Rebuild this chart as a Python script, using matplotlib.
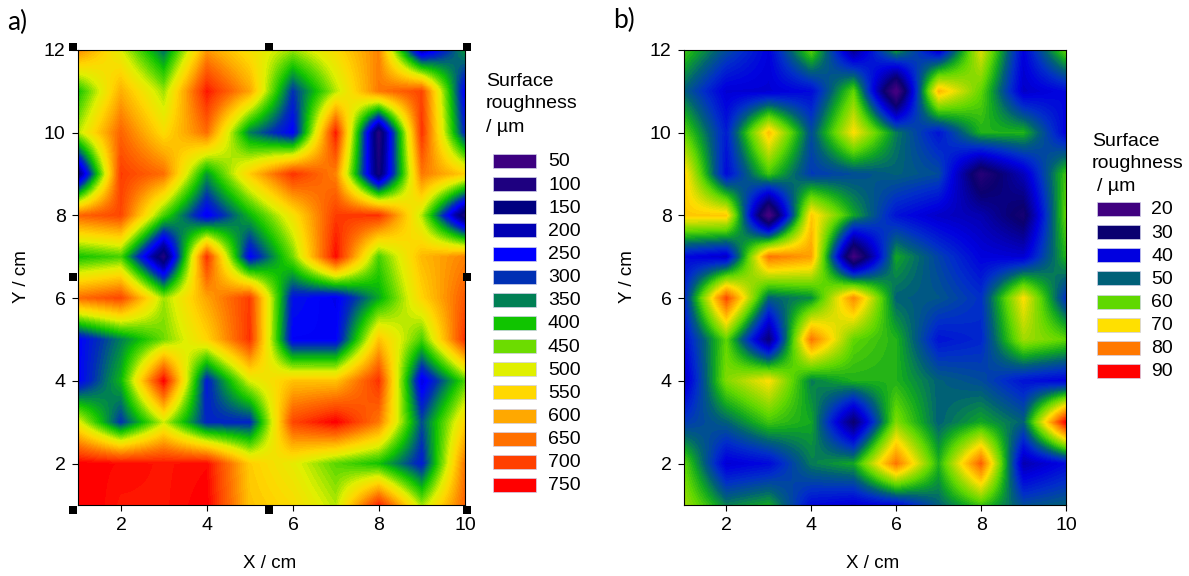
import numpy as np
import matplotlib
matplotlib.use("Agg")
import matplotlib.pyplot as plt
from matplotlib.colors import LinearSegmentedColormap
from matplotlib.patches import Rectangle

plt.rcParams['font.family'] = ['Liberation Sans', 'DejaVu Sans']

W, H = 1189, 576

# rows below run from y=12 down to y=1, columns x=1 to x=10
rough_a = np.array([
    [630, 500, 340, 610, 530, 470, 540, 630, 190, 370],
    [400, 590, 470, 730, 600, 300, 480, 640, 690, 250],
    [480, 660, 540, 650, 350, 250, 730, 90, 710, 290],
    [140, 700, 650, 370, 560, 710, 630, 120, 640, 560],
    [660, 690, 430, 240, 390, 530, 700, 710, 480, 110],
    [400, 430, 100, 710, 250, 450, 740, 430, 580, 630],
    [650, 690, 470, 600, 700, 270, 240, 380, 550, 670],
    [250, 350, 450, 550, 710, 250, 250, 570, 430, 710],
    [250, 390, 750, 280, 500, 570, 570, 710, 230, 430],
    [510, 300, 490, 290, 290, 690, 750, 640, 320, 550],
    [750, 740, 730, 740, 560, 510, 440, 400, 280, 640],
    [760, 730, 730, 750, 570, 540, 480, 720, 470, 660],
])

rough_b = np.array([
    [58, 48, 40, 60, 33, 55, 38, 68, 40, 60],
    [50, 39, 39, 41, 60, 18, 74, 60, 38, 41],
    [60, 43, 73, 48, 70, 52, 42, 56, 56, 40],
    [72, 41, 58, 46, 48, 50, 48, 25, 37, 58],
    [72, 72, 18, 72, 55, 42, 38, 36, 28, 60],
    [41, 38, 80, 76, 20, 55, 47, 40, 39, 56],
    [44, 84, 50, 53, 78, 50, 49, 45, 70, 45],
    [41, 60, 31, 80, 60, 56, 42, 44, 64, 60],
    [37, 62, 70, 52, 56, 56, 50, 48, 42, 40],
    [46, 50, 58, 55, 30, 62, 50, 55, 50, 90],
    [60, 39, 41, 52, 55, 80, 56, 82, 36, 41],
    [64, 52, 55, 41, 39, 41, 50, 58, 48, 50],
])

legend_a = [50, 100, 150, 200, 250, 300, 350, 400, 450, 500, 550, 600, 650, 700, 750]
colors_a = ['#3c0080', '#1e0080', '#000080', '#0000b4', '#0000ff', '#0030b4', '#008055',
            '#10c400', '#6cdc00', '#e0f000', '#ffd800', '#ffa800', '#ff7000', '#ff4000', '#ff0000']
legend_b = [20, 30, 40, 50, 60, 70, 80, 90]
colors_b = ['#400080', '#0a0070', '#0000e0', '#006078', '#60d800', '#ffe000', '#ff7800', '#ff0000']
# extra colour stops in panel b, the map is more saturated between the key steps
extra_b = [(45, '#0030c8'), (55, '#10a820')]


def px_axes(left, right, top, bottom):
    return fig.add_axes([left / W, 1 - bottom / H, (right - left) / W, (bottom - top) / H])


def draw_map(ax, z, vals, cols, extra=()):
    stops = sorted(list(zip(vals, cols)) + list(extra))
    pairs = [((v - vals[0]) / (vals[-1] - vals[0]), c) for v, c in stops]
    cmap = LinearSegmentedColormap.from_list("rough", pairs, N=80)
    ax.imshow(z, cmap=cmap, vmin=vals[0], vmax=vals[-1], extent=(0.5, 10.5, 0.5, 12.5),
              aspect='auto', interpolation='bilinear', interpolation_stage='data')
    ax.set_xlim(1, 10)
    ax.set_ylim(1, 12)
    ax.set_xticks([2, 4, 6, 8, 10])
    ax.set_yticks([2, 4, 6, 8, 10, 12])
    ax.tick_params(labelsize=14, length=4, width=0.8, pad=5)
    for s in ax.spines.values():
        s.set_linewidth(0.8)


def draw_key(vals, cols, sw_left, text_x, first_y, title, title_y):
    for i, (v, c) in enumerate(zip(vals, cols)):
        yc = first_y + i * 23.14
        fig.add_artist(Rectangle((sw_left / W, 1 - (yc + 7) / H), 43 / W, 14 / H,
                                 transform=fig.transFigure, facecolor=c,
                                 edgecolor='#d0d0e8', linewidth=0.5))
        fig.text(text_x / W, 1 - (yc + 1) / H, str(v), fontsize=14, va='center', ha='left')
    for (t, tx), ty in zip(title, title_y):
        fig.text(tx / W, 1 - ty / H, t, fontsize=14, va='center', ha='left')


fig = plt.figure(figsize=(W / 100, H / 100), dpi=100)

ax_a = px_axes(78, 465, 50, 505)
draw_map(ax_a, rough_a, legend_a, colors_a)
ax_b = px_axes(684, 1066, 50, 505)
draw_map(ax_b, rough_b, legend_b, colors_b, extra_b)

fig.text(270 / W, 1 - 564 / H, "X / cm", fontsize=13.5, ha='center', va='center')
fig.text(22 / W, 1 - 277 / H, "Y / cm", fontsize=13.5, ha='center', va='center', rotation=90)
fig.text(873 / W, 1 - 564 / H, "X / cm", fontsize=13.5, ha='center', va='center')
fig.text(627 / W, 1 - 277 / H, "Y / cm", fontsize=13.5, ha='center', va='center', rotation=90)

fig.text(7 / W, 1 - 22 / H, "a)", fontsize=19, family='Lato', ha='left', va='center')
fig.text(613 / W, 1 - 20 / H, "b)", fontsize=19, family='Lato', ha='left', va='center')

draw_key(legend_a, colors_a, 493, 548, 161,
         [("Surface", 486), ("roughness", 486), ("/ \u00b5m", 486)], [82, 103, 127])
draw_key(legend_b, colors_b, 1097, 1151, 209,
         [("Surface", 1092), ("roughness", 1092), ("/ \u00b5m", 1097)], [141, 163, 186])

# selection handles left on panel a
for hx in (73, 269, 467):
    for hy in (47, 277, 510):
        if hx == 269 and hy == 277:
            continue
        fig.add_artist(Rectangle(((hx - 4) / W, 1 - (hy + 4) / H), 8 / W, 8 / H,
                                 transform=fig.transFigure, facecolor='black', edgecolor='none'))

fig.savefig("out.png", dpi=100)
